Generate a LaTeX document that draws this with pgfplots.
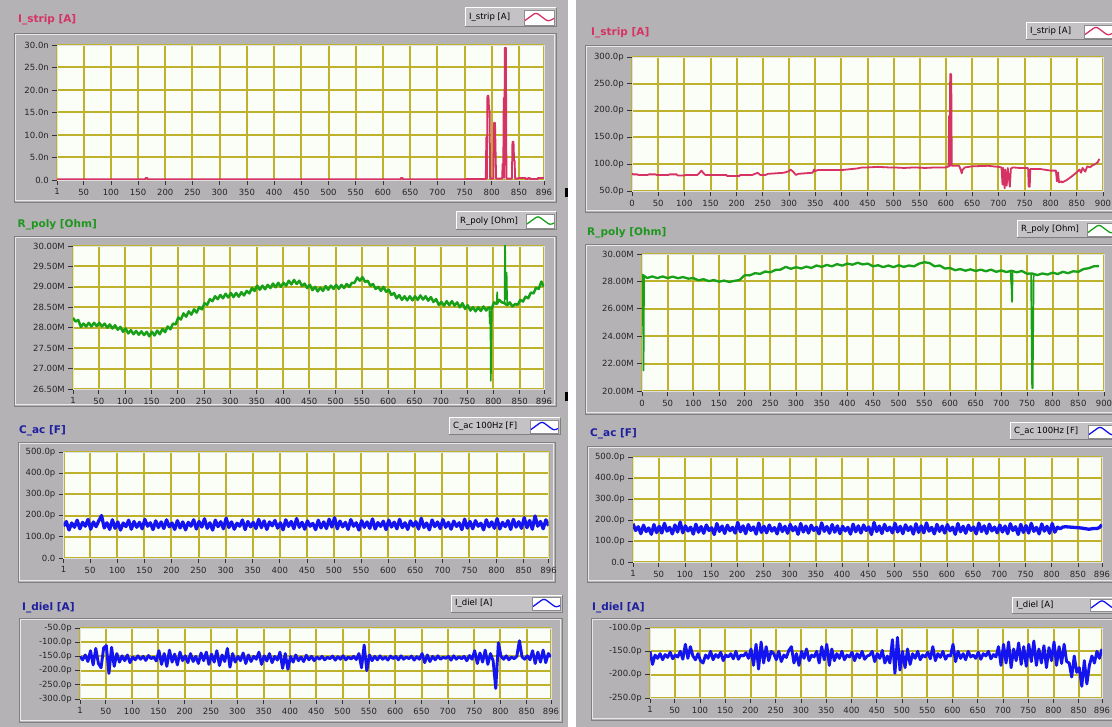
\documentclass[border=0pt]{standalone}
\usepackage{fontspec}
\setmainfont{DejaVu Sans}
\usepackage{pgfplots}
\pgfplotsset{compat=1.18}
\definecolor{panel}{RGB}{180,178,181}
\definecolor{plotbg}{RGB}{251,253,247}
\definecolor{gridc}{RGB}{190,178,44}
\definecolor{pinkc}{RGB}{214,50,100}
\definecolor{greenc}{RGB}{24,160,24}
\definecolor{greent}{RGB}{30,150,30}
\definecolor{bluec}{RGB}{20,20,240}
\definecolor{navy}{RGB}{30,30,160}
\definecolor{legbg}{RGB}{196,194,197}

\pgfplotsset{
  lv/.style={
    scale only axis, anchor=north west,
    axis background/.style={fill=plotbg},
    grid=major, grid style={gridc, line width=2pt},
    axis line style={draw=black!12, line width=0.5pt},
    tick align=outside, tick pos=left,
    major tick length=5pt,
    tick style={black!80, line width=0.7pt},
    ticklabel style={font=\fontsize{8.5}{9}\selectfont, text=black!85},
    xticklabel style={inner sep=1.5pt, yshift=-2pt},
    yticklabel style={inner sep=1.5pt, xshift=-1.5pt},
    /pgf/number format/assume math mode=true,
    every axis plot/.append style={line join=round},
  },
  lvL/.style={xmin=1, xmax=896,
    xtick={1,50,100,150,200,250,300,350,400,450,500,550,600,650,700,750,800,850,896}},
  lvR/.style={xmin=0, xmax=900,
    xtick={0,50,100,150,200,250,300,350,400,450,500,550,600,650,700,750,800,850,900}},
}

\newcommand{\lvframe}[4]{%
  \draw[black!50,line width=0.8pt] (#1pt,-#2pt) rectangle (#3pt,-#4pt);
  \draw[white!70!panel,line width=0.8pt] (#1pt+1.2pt,-#2pt-1.2pt) rectangle (#3pt-1.2pt,-#4pt+1.2pt);
}
\newcommand{\lvtitle}[4]{\node[anchor=west,inner sep=0pt,font=\bfseries\fontsize{10.5}{11}\selectfont,text=#4] at (#1pt,-#2pt) {#3};}
\newcommand{\lvlegend}[8]{%
  \fill[legbg] (#1pt,-#2pt) rectangle (#3pt,-#4pt);
  \draw[white,line width=1pt] (#1pt,-#4pt) -- (#1pt,-#2pt) -- (#3pt,-#2pt);
  \draw[black!50,line width=1pt] (#3pt,-#2pt) -- (#3pt,-#4pt) -- (#1pt,-#4pt);
  \node[anchor=west,inner sep=0pt,font=\fontsize{8.5}{9}\selectfont] at (#1pt+4pt,-#6pt) {#7};
  \filldraw[fill=white,draw=black!45,line width=0.6pt] (#5pt,-#2pt-2pt) rectangle (#3pt-2pt,-#4pt+2pt);
  \begin{scope}
    \clip (#5pt,-#2pt-2pt) rectangle (#3pt-2pt,-#4pt+2pt);
    \draw[#8,line width=1.3pt,rounded corners=2.5pt] (#5pt+1pt,-#6pt-3pt) -- (#5pt+12pt,-#6pt+5pt) -- (#5pt+24pt,-#6pt-4pt) -- (#5pt+34pt,-#6pt+1pt);
  \end{scope}
}

\begin{document}
\begin{tikzpicture}
\useasboundingbox (0pt,0pt) rectangle (1112pt,-727pt);
\clip (0pt,0pt) rectangle (1112pt,-727pt);
\fill[panel] (0pt,0pt) rectangle (568pt,-727pt);
\fill[white] (568pt,0pt) rectangle (576pt,-727pt);
\fill[panel] (576pt,0pt) rectangle (1112pt,-727pt);
\fill[black] (565pt,-188pt) rectangle (568pt,-197pt);
\fill[black] (565pt,-392pt) rectangle (568pt,-401pt);

% frames
\lvframe{14}{33}{556}{202}
\lvframe{14}{236}{556}{406}
\lvframe{18}{442}{555}{582}
\lvframe{19}{618}{562}{722}
\lvframe{585}{45}{1120}{212}
\lvframe{585}{244}{1120}{414}
\lvframe{587}{446}{1120}{582}
\lvframe{591}{618}{1120}{720}

% titles
\lvtitle{18}{20}{I\_strip [A]}{pinkc}
\lvtitle{17.5}{225}{R\_poly [Ohm]}{greent}
\lvtitle{19}{431}{C\_ac [F]}{navy}
\lvtitle{22}{608}{I\_diel [A]}{navy}
\lvtitle{591}{33}{I\_strip [A]}{pinkc}
\lvtitle{587}{233}{R\_poly [Ohm]}{greent}
\lvtitle{590}{434}{C\_ac [F]}{navy}
\lvtitle{592}{608}{I\_diel [A]}{navy}

% legends
\lvlegend{465}{8}{556}{27}{524}{17.5}{I\_strip [A]}{pinkc}
\lvlegend{456}{212}{556}{230}{526}{221}{R\_poly [Ohm]}{greenc}
\lvlegend{449}{418}{560}{435}{530}{426.5}{C\_ac 100Hz [F]}{bluec}
\lvlegend{451}{595}{562}{612}{532}{603.5}{I\_diel [A]}{bluec}
\lvlegend{1026}{23}{1118}{40}{1084}{31.5}{I\_strip [A]}{pinkc}
\lvlegend{1017}{221}{1118}{238}{1087}{229.5}{R\_poly [Ohm]}{greenc}
\lvlegend{1010}{423}{1118}{440}{1088}{431.5}{C\_ac 100Hz [F]}{bluec}
\lvlegend{1012}{597}{1118}{613}{1090}{605}{I\_diel [A]}{bluec}

% ---------- L1 I_strip ----------
\begin{axis}[lv, lvL, at={(57pt,-45pt)}, width=487pt, height=135pt,
  ymin=0, ymax=30, ytick={0,5,10,15,20,25,30},
  yticklabels={0.0,5.0n,10.0n,15.0n,20.0n,25.0n,30.0n}]
\addplot[pinkc, line width=1.8pt] coordinates {
(1,0.15)(163,0.15)(164,0.45)(167,0.45)(168,0.15)(632,0.15)(633,0.45)(636,0.45)(637,0.15)
(789,0.2)(790,9.5)(791,0.3)(792,18.7)(794,18.7)(795,15.6)(796,15.6)(797,0.3)(803,0.3)
(804,12.7)(806,12.7)(807,6.6)(808,0.3)(819,0.3)(820,3.6)(821,0.5)(822,18.2)(823,0.5)
(824,29.4)(826,29.4)(827,0.3)(837,0.3)(838,8.5)(840,8.5)(841,4.3)(842,4.3)(843,0.3)
(848,0.3)(849,0.45)(862,0.45)(863,0.2)(866,0.2)(867,0.45)(870,0.45)(871,0.2)(884,0.2)(885,0.45)(896,0.45)};
\end{axis}

% ---------- R1 I_strip ----------
\begin{axis}[lv, lvR, at={(632pt,-57pt)}, width=471pt, height=134pt,
  ymin=50, ymax=300, ytick={50,100,150,200,250,300},
  yticklabels={50.0p,100.0p,150.0p,200.0p,250.0p,300.0p}]
\addplot[pinkc, line width=1.8pt] coordinates {
(0,83)(2,81)(10,81)(12,80)(30,80)(32,81)(45,81)(47,80)(70,80)(72,81)(85,81)(87,79)(100,79)(102,80)
(125,80)(130,85)(133,88)(136,84)(140,80)(180,80)(182,78)(205,78)(207,80)(230,80)(235,82)(240,84)
(245,80)(255,80)(260,82)(275,83)(290,84)(300,87)(303,90)(308,86)(313,80)(318,82)(330,83)(345,84)
(348,90)(350,87)(355,89)(380,89)(400,89)(410,90)(420,91)(430,92)(440,94)(450,94)(470,95)(490,94)
(500,94)(520,93)(540,94)(560,93)(580,94)(600,94)(605,96)(606,190)(607,96)(608,268)(610,268)(611,97)
(625,97)(628,90)(630,83)(632,90)(636,94)(650,96)(680,97)(700,95)(706,94)(708,62)(709,93)(712,55)
(713,90)(716,60)(718,93)(722,58)(724,92)(728,94)(740,93)(756,93)(757,90)(758,58)(760,58)(761,91)
(780,91)(800,88)(810,88)(812,68)(814,85)(816,66)(820,68)(822,66)(830,70)(840,77)(850,85)(855,90)
(858,84)(861,93)(866,86)(870,96)(875,94)(880,98)(885,100)(890,104)(893,110)};
\end{axis}

% ---------- L2 R_poly ----------
\begin{axis}[lv, lvL, at={(73pt,-246pt)}, width=471pt, height=143pt,
  ymin=26.5, ymax=30, ytick={26.5,27,27.5,28,28.5,29,29.5,30},
  yticklabels={26.50M,27.00M,27.50M,28.00M,28.50M,29.00M,29.50M,30.00M}]
\addplot[greenc, line width=2.5pt] table[header=false, row sep=\\, x expr=\coordindex*5+1, y index=0] {
28.24\\28.15\\28.19\\28.02\\28.1\\28.03\\28.12\\28.03\\28.12\\28.04\\28.12\\28.03\\28.1\\28.0\\28.08\\27.98\\28.06\\27.95\\28.02\\27.9\\
27.98\\27.86\\27.94\\27.84\\27.92\\27.83\\27.91\\27.82\\27.9\\27.79\\27.9\\27.81\\27.93\\27.84\\27.97\\27.89\\28.03\\27.96\\28.1\\28.08\\
28.25\\28.2\\28.35\\28.27\\28.4\\28.32\\28.45\\28.37\\28.5\\28.45\\28.6\\28.56\\28.7\\28.65\\28.77\\28.7\\28.8\\28.72\\28.83\\28.74\\
28.85\\28.75\\28.85\\28.76\\28.87\\28.79\\28.9\\28.84\\28.97\\28.9\\29.03\\28.93\\29.03\\28.94\\29.05\\28.97\\29.08\\28.99\\29.1\\29.0\\
29.1\\29.03\\29.15\\29.06\\29.17\\29.07\\29.15\\29.02\\29.08\\28.97\\29.05\\28.92\\29.0\\28.89\\28.98\\28.9\\29.02\\28.93\\29.03\\28.95\\
29.05\\28.95\\29.05\\28.97\\29.07\\29.0\\29.1\\29.1\\29.23\\29.15\\29.24\\29.12\\29.15\\29.03\\29.07\\28.95\\29.0\\28.9\\29.0\\28.88\\
28.93\\28.8\\28.85\\28.72\\28.8\\28.68\\28.77\\28.67\\28.77\\28.67\\28.77\\28.68\\28.79\\28.69\\28.77\\28.66\\28.75\\28.63\\28.7\\28.56\\
28.63\\28.54\\28.65\\28.55\\28.65\\28.54\\28.62\\28.5\\28.6\\28.46\\28.55\\28.42\\28.5\\28.4\\28.5\\28.41\\28.52\\28.42\\28.5\\28.45\\
28.62\\28.58\\28.68\\28.62\\28.6\\28.55\\28.62\\28.52\\28.58\\28.56\\28.68\\28.64\\28.76\\28.72\\28.86\\28.84\\28.98\\28.95\\29.13\\29.0\\
};
\addplot[greenc, line width=1.6pt] coordinates {(792,28.45)(793,28.1)(794,28.4)(795,26.7)(796,27.6)(797,28.5)};
\addplot[greenc, line width=1.6pt] coordinates {(806,28.6)(807,28.87)(808,28.6)};
\addplot[greenc, line width=1.6pt] coordinates {(821,28.6)(822,30.3)(823,28.7)(825,29.35)(826,28.6)};
\end{axis}

% ---------- R2 R_poly ----------
\begin{axis}[lv, lvR, at={(642pt,-254pt)}, width=462pt, height=137pt,
  ymin=20, ymax=30, ytick={20,22,24,26,28,30},
  yticklabels={20.00M,22.00M,24.00M,26.00M,28.00M,30.00M}]
\addplot[greenc, line width=2.3pt] table[header=false, row sep=\\, x expr=\coordindex*10, y index=0] {
28.5\\28.25\\28.36\\28.24\\28.36\\28.24\\28.35\\28.23\\28.32\\28.2\\
28.24\\28.08\\28.16\\28.02\\28.1\\27.98\\28.06\\27.96\\28.04\\28.1\\
28.45\\28.44\\28.6\\28.55\\28.72\\28.66\\28.84\\28.86\\29.06\\28.92\\
29.04\\28.94\\29.08\\28.98\\29.16\\29.06\\29.2\\29.1\\29.26\\29.15\\
29.3\\29.22\\29.36\\29.24\\29.3\\29.1\\29.18\\29.04\\29.16\\29.04\\
29.18\\29.06\\29.16\\29.1\\29.3\\29.4\\29.34\\29.1\\29.16\\28.94\\
28.98\\28.82\\28.9\\28.78\\28.88\\28.76\\28.86\\28.74\\28.86\\28.7\\
28.8\\28.68\\28.78\\28.66\\28.76\\28.56\\28.58\\28.46\\28.58\\28.5\\
28.64\\28.54\\28.7\\28.6\\28.74\\28.7\\28.9\\28.96\\29.1\\29.12\\
};
\addplot[greenc, line width=1.7pt] coordinates {(0,28.45)(1,24.8)(2,28.4)(3,21.5)(4,28.3)(6,28.35)};
\addplot[greenc, line width=1.7pt] coordinates {(718,28.72)(720,27.5)(721,26.5)(722,28.7)};
\addplot[greenc, line width=1.7pt] coordinates {(758,28.55)(760,20.2)(761,20.2)(762,24.4)(763,28.5)};
\end{axis}

% ---------- L3 C_ac ----------
\begin{axis}[lv, lvL, at={(63.6pt,-452pt)}, width=485pt, height=106pt,
  ymin=0, ymax=500, ytick={0,100,200,300,400,500},
  yticklabels={0.0,100.0p,200.0p,300.0p,400.0p,500.0p}]
\addplot[bluec, line width=3.3pt] table[header=false, row sep=\\, x expr=\coordindex*5+1, y index=0] {
150\\172\\132\\165\\145\\178\\138\\168\\150\\182\\136\\170\\148\\176\\200\\142\\166\\135\\180\\140\\
170\\132\\165\\148\\178\\136\\172\\145\\168\\138\\182\\150\\166\\134\\175\\144\\170\\139\\180\\147\\
165\\135\\176\\142\\170\\133\\168\\150\\180\\137\\172\\146\\185\\140\\166\\132\\178\\148\\171\\138\\
188\\144\\170\\136\\164\\150\\179\\134\\172\\147\\168\\139\\182\\143\\175\\135\\170\\152\\177\\141\\
166\\133\\180\\149\\172\\138\\186\\145\\168\\136\\175\\150\\163\\134\\178\\142\\170\\139\\183\\146\\
190\\138\\174\\147\\168\\135\\181\\150\\166\\132\\176\\145\\170\\140\\184\\137\\167\\149\\173\\134\\
178\\146\\169\\138\\182\\143\\166\\135\\175\\150\\171\\137\\187\\144\\165\\133\\179\\148\\170\\139\\
181\\145\\168\\136\\174\\149\\166\\134\\183\\141\\172\\138\\176\\150\\164\\133\\180\\147\\170\\140\\
185\\137\\168\\148\\176\\135\\182\\146\\171\\140\\190\\143\\177\\136\\198\\150\\172\\138\\180\\152\\
};
\end{axis}

% ---------- R3 C_ac ----------
\begin{axis}[lv, lvL, at={(633pt,-457pt)}, width=469pt, height=105pt,
  ymin=0, ymax=500, ytick={0,100,200,300,400,500},
  yticklabels={0.0,100.0p,200.0p,300.0p,400.0p,500.0p}]
\addplot[bluec, line width=3.3pt] table[header=false, row sep=\\, x expr=\coordindex*5+1, y index=0] {
182\\150\\168\\135\\175\\145\\162\\132\\178\\140\\170\\138\\184\\147\\165\\134\\176\\143\\190\\139\\
172\\148\\166\\133\\180\\142\\169\\137\\176\\150\\163\\131\\183\\146\\171\\136\\175\\149\\165\\138\\
188\\144\\172\\135\\178\\150\\167\\133\\185\\141\\170\\139\\176\\147\\164\\134\\181\\145\\170\\137\\
179\\149\\168\\132\\183\\143\\171\\138\\175\\150\\166\\134\\186\\146\\169\\137\\178\\142\\172\\135\\
170\\148\\165\\133\\180\\144\\172\\138\\176\\150\\167\\131\\188\\145\\171\\136\\179\\149\\166\\139\\
184\\143\\170\\135\\177\\150\\168\\133\\182\\141\\172\\139\\186\\147\\165\\134\\179\\146\\171\\138\\
178\\149\\166\\132\\183\\144\\170\\137\\175\\150\\167\\134\\185\\145\\172\\136\\180\\148\\166\\139\\
176\\143\\171\\135\\182\\150\\168\\131\\179\\141\\173\\138\\184\\146\\165\\134\\181\\147\\170\\137\\
183\\142\\166\\158\\166\\168\\167\\166\\165\\164\\163\\162\\160\\158\\156\\158\\160\\159\\164\\178\\
};
\end{axis}

% ---------- L4 I_diel ----------
\begin{axis}[lv, lvL, at={(80pt,-628pt)}, width=471pt, height=71pt,
  ymin=-300, ymax=-50, ytick={-300,-250,-200,-150,-100,-50},
  yticklabels={-300.0p,-250.0p,-200.0p,-150.0p,-100.0p,-50.0p}]
\addplot[bluec, line width=2.9pt] table[header=false, row sep=\\, x expr=\coordindex*5+1, y index=0] {
-150\\-162\\-145\\-168\\
-130\\-180\\-122\\-175\\-190\\-120\\-112\\-210\\-118\\-185\\
-140\\-170\\-148\\-165\\-145\\-172\\
-152\\-162\\-148\\-160\\-150\\-164\\-147\\-158\\-152\\-166\\
-130\\-178\\-140\\-185\\-128\\-170\\-142\\-180\\-135\\-165\\
-148\\-172\\-140\\-168\\-150\\-175\\-138\\-165\\
-135\\-178\\-142\\-170\\-130\\-182\\-145\\-168\\-122\\-188\\
-140\\-170\\-150\\-165\\-138\\-175\\-145\\-168\\-150\\-160\\-135\\-178\\-148\\-166\\-140\\-172\\-150\\-163\\
-135\\-192\\-140\\-195\\
-150\\-170\\-145\\-165\\-152\\-168\\-146\\-162\\-150\\-165\\
-152\\-160\\-150\\-162\\-153\\-158\\-149\\-163\\-151\\-160\\-148\\-162\\-152\\-159\\-150\\-161\\
-140\\-190\\-110\\-200\\
-145\\-165\\-150\\-162\\-148\\-160\\-152\\-163\\-149\\-158\\
-150\\-162\\-148\\-160\\-152\\-158\\-149\\-163\\-151\\-160\\-140\\-172\\-145\\-168\\-150\\-162\\-148\\-160\\-153\\-157\\-150\\-163\\-148\\-160\\-151\\-158\\-150\\-165\\-147\\-160\\
-130\\-175\\-138\\-170\\-128\\-178\\-140\\-165\\
-263\\-102\\
-150\\-160\\-148\\-162\\-152\\-158\\-150\\
-95\\
-152\\-160\\-148\\-162\\
-130\\-175\\-135\\-170\\-128\\-172\\-140\\-152\\
};
\end{axis}

% ---------- R4 I_diel ----------
\begin{axis}[lv, lvL, at={(650pt,-628pt)}, width=452pt, height=70pt,
  ymin=-250, ymax=-100, ytick={-250,-200,-150,-100},
  yticklabels={-250.0p,-200.0p,-150.0p,-100.0p}]
\addplot[bluec, line width=2.9pt] table[header=false, row sep=\\, x expr=\coordindex*5+1, y index=0] {
-150\\-178\\
-158\\-165\\-155\\-168\\-157\\-163\\-152\\-166\\-158\\-162\\-150\\-167\\
-135\\-165\\-140\\
-160\\-168\\-155\\-170\\-175\\-158\\-165\\-150\\-168\\-157\\-163\\-152\\-170\\-158\\-162\\-155\\-166\\-150\\-167\\-158\\-160\\-153\\-165\\
-145\\-180\\-135\\-188\\-130\\-175\\-140\\-170\\-150\\
-155\\-168\\-150\\-172\\-158\\-163\\-148\\-140\\-175\\-155\\-180\\-150\\-165\\-145\\-170\\-158\\-162\\-150\\-175\\-140\\-168\\
-135\\-180\\-145\\-170\\
-155\\-165\\-150\\-168\\-158\\-162\\-152\\-170\\-155\\-164\\-150\\-167\\-160\\-158\\-150\\-172\\-155\\-165\\-148\\-175\\
-160\\-175\\-125\\-197\\-120\\-190\\
-150\\-185\\-145\\-178\\
-155\\-165\\-150\\-168\\-158\\-162\\-152\\-166\\-140\\-170\\-155\\-163\\-150\\-167\\-158\\-160\\-135\\-172\\-150\\-165\\-155\\-168\\-150\\-162\\-158\\-165\\-152\\-167\\-155\\-160\\-150\\-166\\-157\\-162\\
-140\\-180\\-135\\-175\\-130\\-185\\-145\\-170\\-132\\-178\\-140\\-182\\-135\\-172\\-128\\-180\\-145\\-175\\-138\\-185\\-142\\-170\\-130\\-180\\-140\\-176\\-135\\-172\\
-175\\-205\\-160\\-195\\
-185\\-225\\-170\\-220\\-180\\
-160\\-175\\-150\\-165\\-145\\
};
\end{axis}
\end{tikzpicture}
\end{document}
